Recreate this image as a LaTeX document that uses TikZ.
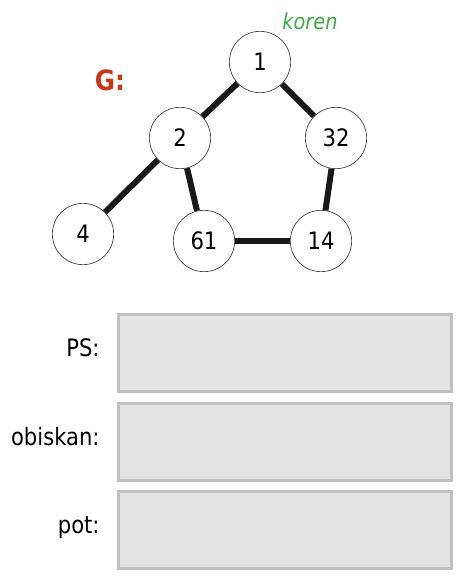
\documentclass[tikz,border=0pt]{standalone}
\usepackage{fontspec}
\setmainfont{DejaVu Sans}[FakeStretch=0.88]
\usetikzlibrary{positioning}
\definecolor{rootgreen}{RGB}{60,170,70}
\definecolor{graphred}{RGB}{200,55,20}
\definecolor{boxfill}{RGB}{228,228,228}
\definecolor{boxline}{RGB}{192,192,192}
\tikzset{
  % Graph
  vertex node/.style={circle, draw=black!75, line width=0.5pt, minimum size=46pt, inner sep=0pt, fill=white, font=\fontsize{18}{18}\selectfont},
  graph edge/.style={line width=4.5pt, black!90},
  % Answer fields
  answer box/.style={rectangle, draw=boxline, line width=2.25pt, fill=boxfill, minimum width=250pt, minimum height=58pt, inner sep=0pt},
  field label/.style={font=\fontsize{18}{18}\selectfont, inner sep=0pt, text height=0.72em, text depth=0.2em},
}

\begin{document}
\begin{tikzpicture}[x=0.75pt, y=-0.75pt]
\useasboundingbox (0,0) rectangle (460,581);

% Title and root marker
\node[font=\bfseries\fontsize{21}{21}\selectfont, text=graphred] (title) at (110,80) {G:};
\node[font=\itshape\fontsize{16.5}{16.5}\selectfont, text=rootgreen] (rootlbl) at (310,21) {koren};

% Vertices
\node[vertex node] (v1) at (260,62) {1};
\node[vertex node] (v2) at (180,138) {2};
\node[vertex node] (v32) at (336,138) {32};
\node[vertex node] (v4) at (83,234) {4};
\node[vertex node] (v61) at (204,241) {61};
\node[vertex node] (v14) at (321,241) {14};

% Edges
\draw[graph edge] (v1) -- (v2);
\draw[graph edge] (v1) -- (v32);
\draw[graph edge] (v2) -- (v4);
\draw[graph edge] (v2) -- (v61);
\draw[graph edge] (v32) -- (v14);
\draw[graph edge] (v61) -- (v14);

% Answer boxes
\node[answer box] (ps) at (285,353) {};
\node[answer box] (visited) at (285,442) {};
\node[answer box] (path) at (285,530) {};

\node[field label, left=12.75pt of ps] (pslbl) {PS:};
\node[field label, left=12.75pt of visited] (visitedlbl) {obiskan:};
\node[field label, left=12.75pt of path] (pathlbl) {pot:};
\end{tikzpicture}
\end{document}
